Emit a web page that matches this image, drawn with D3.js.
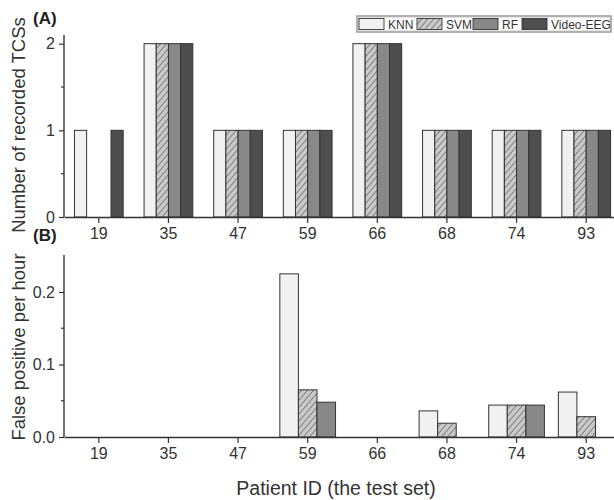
<!DOCTYPE html>
<html>
<head>
<meta charset="utf-8">
<script src="https://cdn.jsdelivr.net/npm/d3@7"></script>
<style>
  body { margin: 0; background: #fff; }
  svg { font-family: "Liberation Sans", Arial, sans-serif; }
</style>
</head>
<body>
<svg id="chart" width="614" height="500"></svg>
<script>
// Patient IDs (the test set), shared by both panels.
const patients = ["19", "35", "47", "59", "66", "68", "74", "93"];

// Panel A: number of recorded TCSs.
const seriesA = ["KNN", "SVM", "RF", "Video-EEG"];
const knnTCS = [1, 2, 1, 1, 2, 1, 1, 1];
const svmTCS = [0, 2, 1, 1, 2, 1, 1, 1];
const rfTCS = [0, 2, 1, 1, 2, 1, 1, 1];
const eegTCS = [1, 2, 1, 1, 2, 1, 1, 1];

// Panel B: false positives per hour.
const seriesB = ["KNN", "SVM", "RF"];
const knnFP = [0, 0, 0, 0.225, 0, 0.036, 0.044, 0.062];
const svmFP = [0, 0, 0, 0.065, 0, 0.019, 0.044, 0.028];
const rfFP = [0, 0, 0, 0.048, 0, 0, 0.044, 0];

const ticksA = [0, 1, 2];
const minorA = [0.5, 1.5];
const ticksB = [0, 0.1, 0.2];
const minorB = [0.05, 0.15];

const fills = {"KNN": "#f1f1f1", "SVM": "url(#hatch)", "RF": "#888888", "Video-EEG": "#4e4e4e"};

const svg = d3.select("#chart");

// Hatch pattern for SVM bars.
const pat = svg.append("defs").append("pattern")
    .attr("id", "hatch")
    .attr("patternUnits", "userSpaceOnUse")
    .attr("width", 6)
    .attr("height", 7);
pat.append("rect").attr("width", 6).attr("height", 7).attr("fill", "#c9c9c9");
pat.append("path")
    .attr("d", "M-1,1.17 l2,-2.33 M0,7 l6,-7 M5,8.17 l2,-2.33")
    .attr("stroke", "#555")
    .attr("stroke-width", 0.8);

const left = 64, right = 621;
const x = d3.scaleBand().domain(patients).range([left, right]).padding(0);

function drawPanel(opts) {
    /*
    Draws one bar panel: bars, axes, minor ticks and titles.
    */
    let y = d3.scaleLinear().domain(opts.domain).range(opts.range);
    let step = x.bandwidth();
    let groupW = step * opts.groupFrac;
    let x1 = d3.scaleBand().domain(opts.series).range([0, groupW]);

    let rows = [];
    patients.forEach(function(p, i) {
        opts.series.forEach(function(s, j) {
            rows.push({patient: p, series: s, value: opts.values[j][i]});
        });
    });

    let g = svg.append("g");
    g.selectAll("rect.bar")
        .data(rows.filter(d => d.value > 0))
        .join("rect")
        .attr("class", "bar")
        .attr("x", d => x(d.patient) + (step - groupW) / 2 + x1(d.series))
        .attr("width", x1.bandwidth())
        .attr("y", d => y(d.value))
        .attr("height", d => y(0) - y(d.value))
        .attr("fill", d => fills[d.series])
        .attr("stroke", "#333")
        .attr("stroke-width", 1);

    // Y axis with major and minor ticks.
    let yAxis = g.append("g")
        .attr("transform", "translate(" + left + ",0)")
        .call(d3.axisLeft(y).tickValues(opts.ticks).tickFormat(opts.format)
            .tickSizeInner(5).tickSizeOuter(0).tickPadding(4));
    yAxis.select(".domain").attr("stroke", "#333").attr("stroke-width", 1.4)
        .attr("d", "M0," + y(opts.domain[1]) + "V" + y(0));
    yAxis.selectAll(".tick line").attr("stroke", "#333").attr("stroke-width", 1.2);
    yAxis.selectAll(".tick text").attr("font-size", 16).attr("fill", "#333");
    yAxis.selectAll(".minor")
        .data(opts.minor)
        .join("line")
        .attr("class", "minor")
        .attr("x1", -3).attr("x2", 0)
        .attr("y1", d => y(d)).attr("y2", d => y(d))
        .attr("stroke", "#333").attr("stroke-width", 1.2);

    // X axis.
    let xAxis = g.append("g")
        .attr("transform", "translate(0," + y(0) + ")")
        .call(d3.axisBottom(x).tickSizeInner(6).tickSizeOuter(0).tickPadding(5));
    xAxis.select(".domain").attr("stroke", "#333").attr("stroke-width", 1.4);
    xAxis.selectAll(".tick line").attr("stroke", "#333").attr("stroke-width", 1.2);
    xAxis.selectAll(".tick text").attr("font-size", 16).attr("fill", "#333");

    // Y axis title.
    svg.append("text")
        .attr("transform", "translate(25," + opts.titleY + ") rotate(-90)")
        .attr("text-anchor", "middle")
        .attr("font-size", 18.5)
        .attr("fill", "#333")
        .text(opts.title);

    // Panel label.
    svg.append("text")
        .attr("x", 33).attr("y", opts.labelY)
        .attr("font-size", 17)
        .attr("font-weight", "bold")
        .attr("fill", "#222")
        .text(opts.label);
}

drawPanel({
    series: seriesA,
    values: [knnTCS, svmTCS, rfTCS, eegTCS],
    domain: [0, 2.1],
    range: [217, 35],
    groupFrac: 0.7,
    ticks: ticksA,
    minor: minorA,
    format: d3.format("d"),
    title: "Number of recorded TCSs",
    titleY: 125,
    label: "(A)",
    labelY: 24
});

drawPanel({
    series: seriesB,
    values: [knnFP, svmFP, rfFP],
    domain: [0, 0.251],
    range: [437, 255],
    groupFrac: 0.8,
    ticks: ticksB,
    minor: minorB,
    format: d3.format(".1f"),
    title: "False positive per hour",
    titleY: 347,
    label: "(B)",
    labelY: 241
});

// X axis title.
svg.append("text")
    .attr("x", 336).attr("y", 495)
    .attr("text-anchor", "middle")
    .attr("font-size", 19.5)
    .attr("fill", "#333")
    .text("Patient ID (the test set)");

// Legend.
const legend = svg.append("g");
legend.append("rect")
    .attr("x", 357).attr("y", 16).attr("width", 254).attr("height", 16)
    .attr("fill", "#fff").attr("stroke", "#999").attr("stroke-width", 1.5);
legend.append("rect")
    .attr("x", 358.5).attr("y", 17.5).attr("width", 251).attr("height", 13)
    .attr("fill", "none").attr("stroke", "#ddd").attr("stroke-width", 0.8);

const legendX = [359, 417, 473, 522];
seriesA.forEach(function(s, i) {
    legend.append("rect")
        .attr("x", legendX[i]).attr("y", 18.5)
        .attr("width", 25).attr("height", 11)
        .attr("fill", fills[s])
        .attr("stroke", "#333").attr("stroke-width", 0.9);
    legend.append("text")
        .attr("x", legendX[i] + 29).attr("y", 28.5)
        .attr("font-size", 12)
        .attr("fill", "#333")
        .text(s);
});
</script>
</body>
</html>
